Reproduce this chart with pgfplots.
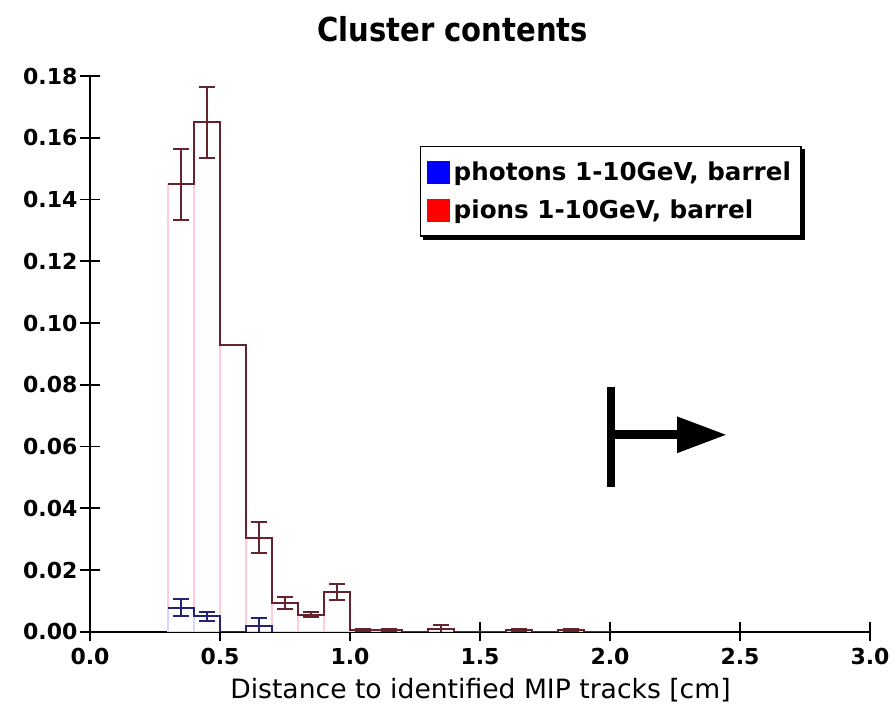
\documentclass[border=0pt]{standalone}
\usepackage{fontspec}
\setmainfont{DejaVu Sans}
\newfontfamily\titlefont{DejaVu Sans}[FakeStretch=0.88]
\usepackage{pgfplots}
\pgfplotsset{compat=1.18}
\usetikzlibrary{arrows.meta}
\definecolor{darkred}{RGB}{100,35,45}
\definecolor{darkblue}{RGB}{35,35,120}
\definecolor{palered}{RGB}{255,205,215}
\definecolor{paleblue}{RGB}{210,215,255}
\begin{document}
\begin{tikzpicture}
\begin{axis}[
  scale only axis, width=390pt, height=277.9pt,
  xmin=0, xmax=3, ymin=0, ymax=0.18,
  axis x line=bottom, axis y line=left,
  axis line style={-, line width=0.8pt},
  tick align=center, major tick length=9.5pt,
  tick style={black, line width=0.8pt},
  xtick={0,0.5,1,1.5,2,2.5,3},
  ytick={0,0.02,0.04,0.06,0.08,0.10,0.12,0.14,0.16,0.18},
  scaled y ticks=false,
  /pgf/number format/assume math mode=true,
  xticklabel style={/pgf/number format/fixed, /pgf/number format/fixed zerofill, /pgf/number format/precision=1},
  yticklabel style={/pgf/number format/fixed, /pgf/number format/fixed zerofill, /pgf/number format/precision=2, xshift=2pt},
  tick label style={font=\bfseries\fontsize{11}{12}\selectfont},
  title={\titlefont\bfseries\fontsize{16.5}{19}\selectfont Cluster contents},
  title style={at={(0.465,1.040)}, anchor=base},
  xlabel={Distance to identified MIP tracks [cm]},
  xlabel style={font=\fontsize{13.3}{15}\selectfont, at={(0.5006,-0.1206)}, anchor=base},
  legend image code/.code={\fill[#1] (0pt,-5.5pt) rectangle (11pt,5.5pt);},
  legend style={name=leg, at={(0.423,0.874)}, anchor=north west, draw=black, line width=0.6pt, fill=white,
    font=\bfseries\fontsize{12.3}{14}\selectfont, inner xsep=3pt, inner ysep=5.5pt, row sep=4pt},
  legend cell align=left,
]
\addlegendimage{blue}
\addlegendentry{photons 1-10GeV, barrel}
\addlegendimage{red}
\addlegendentry{pions 1-10GeV, barrel}

% pale bar outlines (pions)
\addplot[forget plot, ybar interval, draw=palered, fill=none, line width=0.6pt] coordinates {
(0.3,0.145) (0.4,0.165) (0.5,0.093) (0.6,0.0305) (0.7,0.0094) (0.8,0.0055) (0.9,0.013)
(1.0,0.0006) (1.1,0.0006) (1.2,0) (1.3,0.001) (1.4,0) (1.5,0) (1.6,0.0005) (1.7,0)
(1.8,0.0005) (1.9,0) (2.0,0)};
% pale bar outlines (photons)
\addplot[forget plot, ybar interval, draw=paleblue, fill=none, line width=0.6pt] coordinates {
(0.3,0.0078) (0.4,0.005) (0.5,0) (0.6,0.002) (0.7,0)};

% dark steps (pions)
\addplot[forget plot, const plot, darkred, line width=1pt] coordinates {
(0.3,0.145) (0.4,0.165) (0.5,0.093) (0.6,0.0305) (0.7,0.0094) (0.8,0.0055) (0.9,0.013)
(1.0,0.0006) (1.2,0) (1.3,0.001) (1.4,0) (1.6,0.0005) (1.7,0) (1.8,0.0005) (1.9,0) (2.0,0)};
% dark steps (photons)
\addplot[forget plot, const plot, darkblue, line width=1pt] coordinates {
(0.3,0.0078) (0.4,0.005) (0.5,0) (0.6,0.002) (0.7,0)};

% error bars (pions)
\addplot[forget plot, draw=none, no markers,
  error bars/.cd, y dir=both, y explicit,
  error bar style={draw=darkred, line width=1pt},
  error mark options={draw=darkred, rotate=90, mark size=4pt, line width=1pt}] coordinates {
(0.35,0.145) +- (0,0.0115)
(0.45,0.165) +- (0,0.0115)
(0.65,0.0305) +- (0,0.005)
(0.75,0.0094) +- (0,0.002)
(0.85,0.0055) +- (0,0.0008)
(0.95,0.013) +- (0,0.0026)
(1.05,0.0006) +- (0,0.0004)
(1.15,0.0006) +- (0,0.0004)
(1.35,0.001) +- (0,0.0013)
(1.65,0.0005) +- (0,0.0004)
(1.85,0.0005) +- (0,0.0004)};
% error bars (photons)
\addplot[forget plot, draw=none, no markers,
  error bars/.cd, y dir=both, y explicit,
  error bar style={draw=darkblue, line width=1pt},
  error mark options={draw=darkblue, rotate=90, mark size=4pt, line width=1pt}] coordinates {
(0.35,0.0078) +- (0,0.0027)
(0.45,0.005) +- (0,0.0015)
(0.65,0.002) +- (0,0.0025)};

% annotation arrow
\draw[line width=4pt] (axis cs:2.004,0.0794) -- (axis cs:2.004,0.047);
\draw[line width=4.5pt, -{Triangle[length=25pt,width=17pt]}] (axis cs:2.004,0.0638) -- (axis cs:2.45,0.0638);
\end{axis}
% legend shadow
\draw[line width=1.5pt] ([xshift=1.5pt,yshift=-0.75pt]leg.south west) -- ([xshift=0.75pt,yshift=-0.75pt]leg.south east) -- ([xshift=0.75pt,yshift=-1.5pt]leg.north east);
\pgfresetboundingbox
\path[use as bounding box] ([shift={(-45pt,-40pt)}]current axis.south west) rectangle ([shift={(13pt,38pt)}]current axis.north east);
\end{tikzpicture}
\end{document}
